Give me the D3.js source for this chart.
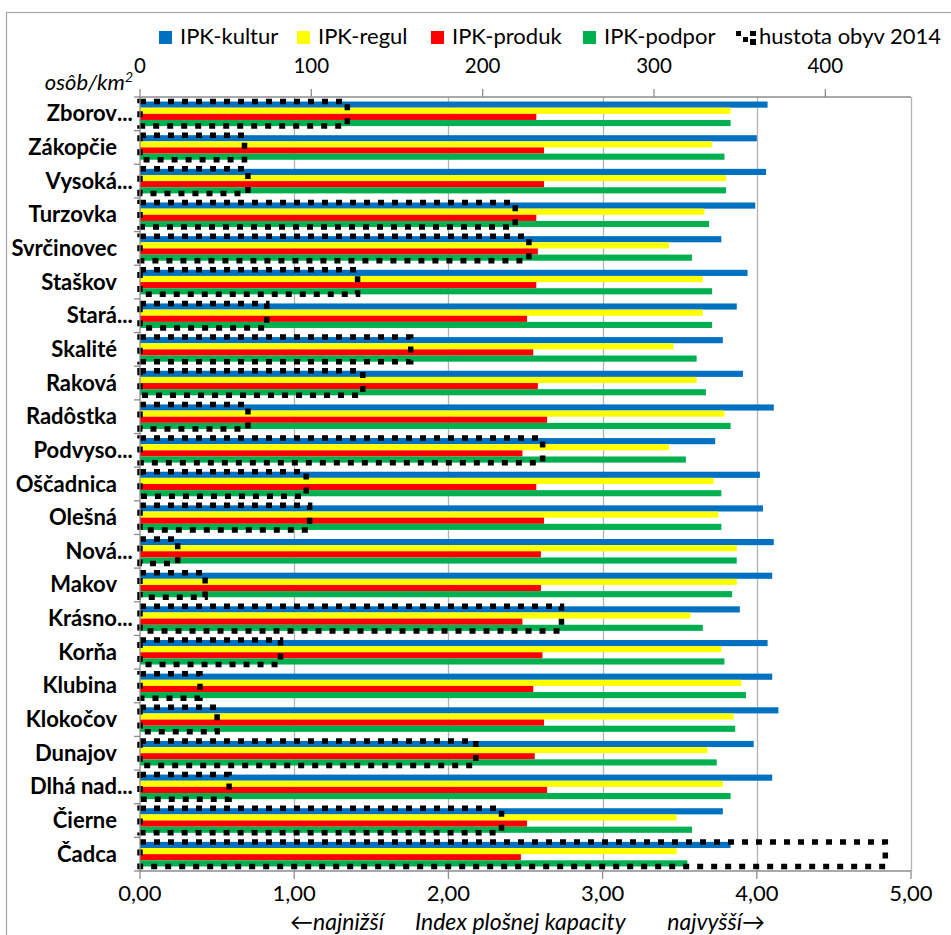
<!DOCTYPE html>
<html>
<head>
<meta charset="utf-8">
<script src="https://cdn.jsdelivr.net/npm/d3@7"></script>
<style>
  html, body { margin: 0; padding: 0; background: #fff; }
  svg { display: block; }
  text { font-family: Lato, "Open Sans", sans-serif; fill: #000; }
</style>
</head>
<body>
<svg id="chart" width="951" height="935"></svg>
<script>
// Municipalities, listed top to bottom
const categories = [
  "Zborov...", "Zákopčie", "Vysoká...", "Turzovka", "Svrčinovec", "Staškov",
  "Stará...", "Skalité", "Raková", "Radôstka", "Podvyso...", "Oščadnica",
  "Olešná", "Nová...", "Makov", "Krásno...", "Korňa", "Klubina",
  "Klokočov", "Dunajov", "Dlhá nad...", "Čierne", "Čadca"
];

// Index plošnej kapacity by function
const ipkKultur = [4.07, 4.00, 4.06, 3.99, 3.77, 3.94, 3.87, 3.78, 3.91, 4.11, 3.73, 4.02,
                   4.04, 4.11, 4.10, 3.89, 4.07, 4.10, 4.14, 3.98, 4.10, 3.78, 3.83];
const ipkRegul  = [3.83, 3.71, 3.80, 3.66, 3.43, 3.65, 3.65, 3.46, 3.61, 3.79, 3.43, 3.72,
                   3.75, 3.87, 3.87, 3.57, 3.77, 3.90, 3.85, 3.68, 3.78, 3.48, 3.48];
const ipkProduk = [2.57, 2.62, 2.62, 2.57, 2.58, 2.57, 2.51, 2.55, 2.58, 2.64, 2.48, 2.57,
                   2.62, 2.60, 2.60, 2.48, 2.61, 2.55, 2.62, 2.56, 2.64, 2.51, 2.47];
const ipkPodpor = [3.83, 3.79, 3.80, 3.69, 3.58, 3.71, 3.71, 3.61, 3.67, 3.83, 3.54, 3.77,
                   3.77, 3.87, 3.84, 3.65, 3.79, 3.93, 3.86, 3.74, 3.83, 3.58, 3.55];

// Population density 2014 (osôb/km²)
const hustota = [121, 61, 63, 219, 227, 127, 74, 158, 130, 63, 235, 97,
                 99, 22, 38, 246, 82, 35, 45, 196, 52, 211, 435];

const seriesNames = ["IPK-kultur", "IPK-regul", "IPK-produk", "IPK-podpor"];
const seriesValues = [ipkKultur, ipkRegul, ipkProduk, ipkPodpor];
const seriesColors = ["#0070C0", "#FFFF00", "#FF0000", "#00B050"];
const densityName = "hustota obyv 2014";

const indexTicks = [0, 1, 2, 3, 4, 5];
const densityTicks = [0, 100, 200, 300, 400];

const svg = d3.select("#chart");

// chart frame
svg.append("rect")
  .attr("x", 6.5).attr("y", 12.5).attr("width", 1000).attr("height", 1000)
  .attr("fill", "none").attr("stroke", "#a6a6a6").attr("stroke-width", 1.2);

const plot = { left: 140, right: 911, top: 97, bottom: 871 };

const x = d3.scaleLinear().domain([0, 5]).range([plot.left, plot.right]);
const x2 = d3.scaleLinear().domain([0, 450]).range([plot.left, plot.right]);
const y = d3.scaleBand().domain(categories).range([plot.top, plot.bottom])
  .paddingInner(0.27).paddingOuter(0.135);
const ySub = d3.scaleBand().domain(seriesNames).range([0, y.bandwidth()]);

// vertical gridlines
svg.append("g")
  .selectAll("line")
  .data(indexTicks.slice(1))
  .join("line")
  .attr("x1", d => Math.round(x(d)) + 0.5).attr("x2", d => Math.round(x(d)) + 0.5)
  .attr("y1", plot.top).attr("y2", plot.bottom)
  .attr("stroke", "#b3b3b3").attr("stroke-width", 1.3);

// bars
const rows = categories.map((c, i) => ({ cat: c, vals: seriesValues.map((s, k) => ({ name: seriesNames[k], v: s[i], color: seriesColors[k] })) }));
const groups = svg.append("g").selectAll("g")
  .data(rows)
  .join("g")
  .attr("transform", d => `translate(0,${y(d.cat)})`);
groups.selectAll("rect")
  .data(d => d.vals)
  .join("rect")
  .attr("x", x(0))
  .attr("y", d => ySub(d.name))
  .attr("width", d => x(d.v) - x(0))
  .attr("height", ySub.bandwidth())
  .attr("fill", d => d.color);

// density bars: dotted outline, no fill
svg.append("g")
  .selectAll("rect")
  .data(categories.map((c, i) => ({ cat: c, v: hustota[i] })))
  .join("rect")
  .attr("x", x2(0))
  .attr("y", d => y(d.cat))
  .attr("width", d => x2(d.v) - x2(0))
  .attr("height", y.bandwidth())
  .attr("fill", "none")
  .attr("stroke", "#000")
  .attr("stroke-width", 5.5)
  .attr("stroke-dasharray", "6,8");

// axes lines
const axisColor = "#8c8c8c";
const axes = svg.append("g").attr("stroke", axisColor).attr("stroke-width", 1.3);
axes.append("line").attr("x1", plot.left).attr("x2", plot.right).attr("y1", plot.top).attr("y2", plot.top);
axes.append("line").attr("x1", plot.left).attr("x2", plot.right).attr("y1", plot.bottom).attr("y2", plot.bottom);
axes.append("line").attr("x1", plot.left).attr("x2", plot.left).attr("y1", plot.top).attr("y2", plot.bottom);

// top (density) axis ticks and labels
axes.selectAll(".tt").data(densityTicks).join("line").attr("class", "tt")
  .attr("x1", d => x2(d)).attr("x2", d => x2(d)).attr("y1", plot.top - 8).attr("y2", plot.top);
svg.append("g").selectAll("text").data(densityTicks).join("text")
  .attr("x", d => x2(d)).attr("y", 73)
  .attr("text-anchor", "middle").attr("font-size", 20.5)
  .text(d => d);

// bottom (index) axis ticks and labels
axes.selectAll(".bt").data(indexTicks).join("line").attr("class", "bt")
  .attr("x1", d => x(d)).attr("x2", d => x(d)).attr("y1", plot.bottom).attr("y2", plot.bottom + 8);
const fmt = d => d3.format(".2f")(d).replace(".", ",");
svg.append("g").selectAll("text").data(indexTicks).join("text")
  .attr("x", d => x(d)).attr("y", 901)
  .attr("text-anchor", "middle").attr("font-size", 22)
  .text(fmt);

// category ticks on the left axis
const bounds = d3.range(categories.length + 1).map(i => plot.top + i * y.step());
axes.selectAll(".lt").data(bounds).join("line").attr("class", "lt")
  .attr("x1", plot.left - 6).attr("x2", plot.left).attr("y1", d => d).attr("y2", d => d);

// category labels (truncated names keep their dots beyond the right edge)
const labelEdge = 117;
const lab = svg.append("g").attr("font-weight", "bold").attr("font-size", 22);
categories.forEach(c => {
  const cy = y(c) + y.bandwidth() / 2 + 7.5;
  const cut = c.endsWith("...");
  lab.append("text").attr("x", labelEdge).attr("y", cy).attr("text-anchor", "end")
    .text(cut ? c.slice(0, -3) : c);
  if (cut) lab.append("text").attr("x", labelEdge).attr("y", cy).text("...");
});

// unit label of the density axis
const unit = svg.append("text").attr("x", 133).attr("y", 90).attr("text-anchor", "end")
  .attr("font-size", 22).attr("font-style", "italic");
unit.append("tspan").text("osôb/km");
unit.append("tspan").attr("font-size", 14).attr("dy", -8).text("2");

// bottom axis title
const title = svg.append("g").attr("font-size", 23).attr("font-style", "italic");
title.append("text").attr("x", 290).attr("y", 930).text("←najnižší");
title.append("text").attr("x", 415).attr("y", 930).text("Index plošnej kapacity");
title.append("text").attr("x", 765).attr("y", 930).attr("text-anchor", "end").text("najvyšší→");

// legend
const legendX = [159, 297, 431, 583];
const lg = svg.append("g");
seriesNames.forEach((n, k) => {
  lg.append("rect").attr("x", legendX[k]).attr("y", 31).attr("width", 13).attr("height", 13)
    .attr("fill", seriesColors[k]);
  lg.append("text").attr("x", legendX[k] + 21).attr("y", 44).attr("font-size", 22).text(n);
});
const dens = lg.append("g").attr("fill", "#000");
[[736, 31, 5, 5], [750, 31, 6, 5], [743, 37, 5, 5], [750, 39, 6, 6]].forEach(s =>
  dens.append("rect").attr("x", s[0]).attr("y", s[1]).attr("width", s[2]).attr("height", s[3]));
lg.append("text").attr("x", 759).attr("y", 44).attr("font-size", 22).text(densityName);
</script>
</body>
</html>
